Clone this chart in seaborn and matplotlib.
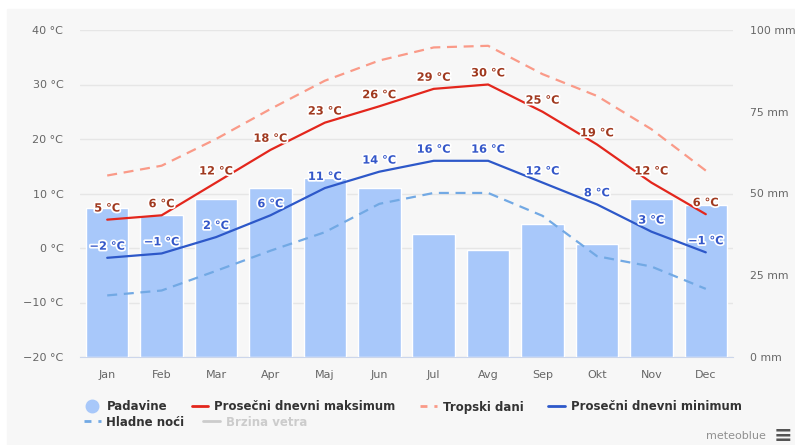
import numpy as np
import pandas as pd
import matplotlib
matplotlib.use("Agg")
import matplotlib.pyplot as plt
import matplotlib.patheffects as pe
from matplotlib.lines import Line2D
from matplotlib.patches import Rectangle
import seaborn as sns

# podaci
meseci = ["Jan", "Feb", "Mar", "Apr", "Maj", "Jun", "Jul", "Avg", "Sep", "Okt", "Nov", "Dec"]
padavine = [45.5, 43.5, 48.4, 51.8, 54.6, 51.8, 37.6, 32.6, 40.6, 34.7, 48.4, 46.5]
maks = [5.2, 6.0, 12.0, 18.0, 23.0, 26.0, 29.2, 30.0, 25.0, 19.0, 12.0, 6.2]
minimum = [-1.8, -1.0, 2.0, 6.0, 11.0, 14.0, 16.0, 16.0, 12.0, 8.0, 3.0, -0.8]
tropski = [13.3, 15.1, 20.0, 25.5, 30.7, 34.4, 36.8, 37.1, 31.9, 27.9, 21.8, 14.2]
hladne = [-8.7, -7.8, -4.2, -0.5, 2.9, 8.1, 10.1, 10.1, 5.9, -1.5, -3.4, -7.5]
maks_lbl = [5, 6, 12, 18, 23, 26, 29, 30, 25, 19, 12, 6]
min_lbl = [-2, -1, 2, 6, 11, 14, 16, 16, 12, 8, 3, -1]
temp_ticks = [-20, -10, 0, 10, 20, 30, 40]
mm_ticks = [0, 25, 50, 75, 100]

df = pd.DataFrame({"mesec": meseci, "poz": range(len(meseci)), "padavine": padavine,
                   "maks": maks, "minimum": minimum, "tropski": tropski, "hladne": hladne})

sns.set_style("white")
plt.rcParams["font.family"] = ["DejaVu Sans"]

fig = plt.figure(figsize=(7.95, 4.45), dpi=100)
fig.patches.append(Rectangle((7 / 795, 0), 1, (445 - 9) / 445, transform=fig.transFigure,
                             color="#f7f7f7", zorder=-10))

pos = [80 / 795, (445 - 357) / 445, (733 - 80) / 795, (357 - 30) / 445]
ax = fig.add_axes(pos)          # temperatura (mreza + leva osa)
axb = ax.twinx()                # padavine (stubici + desna osa)
axl = ax.twinx()                # linije temperature

for a in (ax, axb, axl):
    a.set_facecolor("none")
    for s in a.spines.values():
        s.set_visible(False)

# stubici
sns.barplot(data=df, x="mesec", y="padavine", color="#a8c8fa", saturation=1,
            width=0.78, ax=axb, zorder=2)
axb.set_ylim(0, 100)
axb.set_yticks(mm_ticks)
axb.set_yticklabels([f"{v} mm" for v in mm_ticks])
axb.set_xlim(-0.5, 11.5)
axb.set_xlabel("")
axb.set_ylabel("")
axb.tick_params(axis="y", length=0, labelsize=7.8, labelcolor="#666666", pad=12)

# temperatura osa
ax.set_xlim(-0.5, 11.5)
ax.set_ylim(-20, 40)
ax.set_yticks(temp_ticks)
ax.set_yticklabels([f"{v} °C".replace("-", "\u2212") for v in temp_ticks])
ax.tick_params(axis="y", length=0, labelsize=8, labelcolor="#666666", pad=12)
ax.grid(axis="y", color="#e6e6e6", linewidth=1)
ax.set_axisbelow(True)
ax.set_xticks(range(len(meseci)))
ax.set_xticklabels(meseci)
ax.tick_params(axis="x", length=5, color="#ccd6eb", labelsize=8, labelcolor="#666666", pad=4)
ax.spines["bottom"].set_visible(True)
ax.spines["bottom"].set_color("#ccd6eb")
axb.tick_params(axis="x", bottom=False, labelbottom=False)

# linije
sns.lineplot(data=df, x="poz", y="tropski", ax=axl, color="#fa9a88", linewidth=1.6,
             linestyle=(0, (4.5, 3)))
sns.lineplot(data=df, x="poz", y="hladne", ax=axl, color="#72a9e4", linewidth=1.6,
             linestyle=(0, (4.5, 3)))
sns.lineplot(data=df, x="poz", y="maks", ax=axl, color="#e3261c", linewidth=1.6)
sns.lineplot(data=df, x="poz", y="minimum", ax=axl, color="#2d58c9", linewidth=1.6)
axl.set_ylim(-20, 40)
axl.set_xlim(-0.5, 11.5)
axl.set_yticks([])
axl.set_xlabel("")
axl.set_ylabel("")
axl.tick_params(axis="x", bottom=False, labelbottom=False)

outline = [pe.withStroke(linewidth=2.5, foreground="white")]
for i in range(len(meseci)):
    axl.annotate(f"{maks_lbl[i]} °C".replace("-", "\u2212"), (i, maks[i]), xytext=(0, 8),
                 textcoords="offset points", ha="center", va="center", fontsize=8.2,
                 fontweight="bold", color="#a0391f", path_effects=outline, zorder=5)
    axl.annotate(f"{min_lbl[i]} °C".replace("-", "\u2212"), (i, minimum[i]), xytext=(0, 8),
                 textcoords="offset points", ha="center", va="center", fontsize=8.2,
                 fontweight="bold", color="#3457c9", path_effects=outline, zorder=5)

# legenda
red1 = [
    Line2D([], [], marker="o", linestyle="none", markersize=9, color="#a8c8fa"),
    Line2D([], [], color="#e3261c", linewidth=2),
    Line2D([], [], color="#fa9a88", linewidth=2, linestyle=(0, (2.5, 2.5))),
    Line2D([], [], color="#2d58c9", linewidth=2),
]
lg1 = fig.legend(red1, ["Padavine", "Prosečni dnevni maksimum", "Tropski dani", "Prosečni dnevni minimum"],
                 loc="center left", bbox_to_anchor=(84 / 795, (445 - 407) / 445), ncol=4, frameon=False,
                 prop={"weight": "bold", "size": 8.5}, handlelength=1.4, handletextpad=0.5,
                 columnspacing=2.1, borderpad=0, borderaxespad=0)
red2 = [
    Line2D([], [], color="#72a9e4", linewidth=2, linestyle=(0, (2.5, 2.5))),
    Line2D([], [], color="#cccccc", linewidth=2),
]
lg2 = fig.legend(red2, ["Hladne noći", "Brzina vetra"], loc="center left",
                 bbox_to_anchor=(84 / 795, (445 - 422) / 445), ncol=2, frameon=False,
                 prop={"weight": "bold", "size": 8.5}, handlelength=1.4, handletextpad=0.5,
                 columnspacing=1.6, borderpad=0, borderaxespad=0)
for t in lg1.get_texts():
    t.set_color("#333333")
lg2.get_texts()[0].set_color("#333333")
lg2.get_texts()[1].set_color("#cccccc")

fig.text(766 / 795, (445 - 436) / 445, "meteoblue", ha="right", va="center", fontsize=8,
         color="#909090")
fig.text(783 / 795, (445 - 436) / 445, "\u2261", ha="center", va="center", fontsize=16,
         fontweight="bold", color="#555555")

fig.savefig("out.png", dpi=100)
